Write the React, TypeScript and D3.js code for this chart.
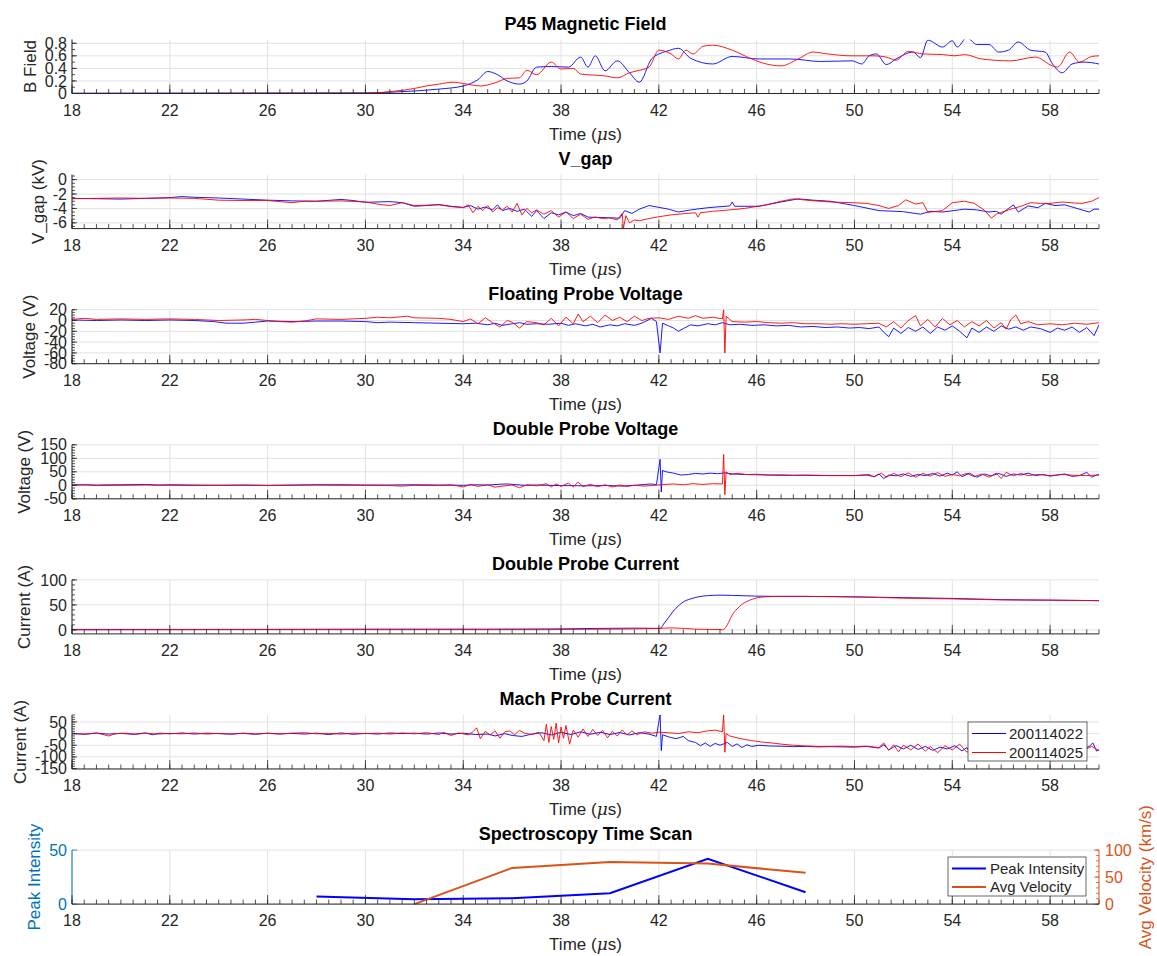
import React from "react";
import * as d3 from "d3";

type Pt = [number, number];

// time axis
const xTickLabels = [18, 22, 26, 30, 34, 38, 42, 46, 50, 54, 58];
const shotNames = ["200114022", "200114025"];

// P45 magnetic field
const bFieldBlue: Pt[] = [[18,0.005],[30,0.01],[31,0.02],[32,0.04],[33,0.07],[34,0.12],[34.6,0.22],[35.0,0.35],[35.4,0.3],[35.8,0.2],[36.3,0.15],[36.6,0.2],[37.0,0.42],[37.6,0.43],[38.3,0.42],[38.8,0.58],[39.1,0.42],[39.4,0.6],[39.8,0.36],[40.3,0.52],[40.8,0.33],[41.2,0.18],[41.7,0.55],[42.0,0.63],[42.3,0.67],[42.8,0.72],[43.3,0.56],[44.2,0.47],[45.0,0.59],[46.1,0.55],[47.4,0.55],[48.6,0.51],[49.9,0.52],[50.3,0.47],[50.6,0.6],[50.9,0.63],[51.3,0.46],[51.7,0.55],[52.4,0.66],[52.7,0.57],[53.0,0.85],[53.6,0.74],[54.0,0.84],[54.2,0.74],[54.6,0.89],[55.0,0.78],[55.5,0.78],[55.9,0.66],[56.3,0.69],[56.7,0.82],[57.2,0.69],[57.8,0.66],[58.1,0.47],[58.5,0.33],[58.9,0.47],[59.4,0.5],[60,0.47]];
const bFieldRed: Pt[] = [[18,0],[30,0.005],[30.5,0.01],[31,0.03],[31.5,0.05],[32,0.08],[32.5,0.12],[33,0.15],[33.6,0.18],[34,0.16],[34.7,0.12],[35.3,0.17],[35.8,0.24],[36.3,0.25],[36.6,0.37],[37.0,0.3],[37.6,0.5],[38.0,0.39],[38.5,0.4],[38.8,0.31],[39.8,0.28],[40.3,0.25],[40.8,0.33],[41.1,0.36],[41.6,0.42],[42.0,0.69],[42.5,0.63],[42.8,0.55],[43.1,0.69],[43.4,0.63],[43.8,0.75],[44.2,0.77],[45.0,0.69],[45.8,0.55],[46.4,0.47],[47.0,0.44],[47.7,0.55],[48.3,0.66],[48.9,0.63],[49.9,0.6],[50.8,0.6],[51.3,0.58],[51.7,0.53],[52.2,0.67],[52.8,0.63],[53.6,0.62],[54.1,0.6],[54.5,0.62],[55.2,0.55],[56.4,0.52],[57.4,0.58],[58.1,0.44],[58.3,0.42],[58.8,0.66],[59.2,0.5],[59.7,0.59],[60,0.6]];

// gap voltage (kV)
const vGapBlue: Pt[] = [[18,-2.6],[19,-2.65],[20,-2.7],[21,-2.6],[22,-2.5],[22.5,-2.35],[23,-2.45],[24,-2.55],[25,-2.7],[26,-2.85],[27,-2.95],[28,-3.0],[29,-2.75],[29.5,-2.9],[30,-3.15],[31,-3.05],[31.5,-3.2],[32,-3.7],[32.5,-3.6],[33,-3.45],[33.5,-3.7],[34,-3.85],[34.3,-3.6],[34.6,-4.1],[34.9,-3.8],[35.2,-4.2],[35.4,-3.5],[35.6,-4.3],[35.9,-4.0],[36.2,-4.4],[36.5,-4.1],[36.8,-5.1],[37.0,-4.3],[37.3,-5.4],[37.6,-4.6],[37.9,-4.9],[38.2,-4.5],[38.5,-5.0],[38.8,-4.7],[39.1,-5.2],[39.5,-5.25],[40,-5.3],[40.4,-5.35],[40.6,-4.3],[40.9,-4.7],[41.2,-4.1],[41.6,-3.6],[42,-3.85],[42.4,-4.1],[42.8,-4.5],[43.3,-4.2],[44,-3.9],[44.9,-3.65],[45,-3.1],[45.1,-3.7],[46.1,-3.7],[47,-3.1],[47.7,-2.67],[48.3,-2.85],[49,-3.0],[50,-3.6],[51,-4.3],[52,-4.45],[52.7,-4.8],[53.1,-4.4],[53.6,-4.5],[54.5,-4.1],[55.0,-4.2],[55.5,-4.5],[55.8,-4.4],[56.0,-4.8],[56.3,-4.0],[56.5,-3.5],[56.7,-4.5],[57.1,-3.65],[57.5,-3.9],[57.8,-3.3],[58.2,-3.6],[58.6,-3.5],[59.1,-4.0],[59.6,-4.5],[59.8,-4.1],[60,-4.1]];
const vGapRed: Pt[] = [[18,-2.65],[19,-2.6],[20,-2.55],[21,-2.6],[22,-2.55],[23,-2.6],[24,-2.85],[25,-2.9],[26,-2.9],[27,-3.2],[27.5,-3.0],[28,-3.0],[29,-2.95],[30,-3.1],[30.5,-3.4],[31,-3.6],[31.5,-3.2],[32,-3.6],[33,-3.5],[33.5,-3.75],[34,-3.9],[34.2,-3.5],[34.4,-4.6],[34.6,-3.7],[34.8,-4.3],[35.0,-3.6],[35.2,-4.5],[35.4,-3.9],[35.6,-4.2],[35.8,-3.7],[36.0,-4.5],[36.2,-3.3],[36.4,-4.9],[36.6,-4.0],[36.8,-4.6],[37.0,-4.2],[37.3,-4.8],[37.6,-4.3],[37.9,-5.2],[38.2,-4.5],[38.5,-5.4],[38.8,-4.8],[39.1,-5.5],[39.4,-5.2],[39.7,-5.4],[40.0,-5.3],[40.3,-5.6],[40.5,-4.7],[40.55,-6.8],[40.65,-5.0],[40.8,-6.0],[41.0,-5.6],[41.2,-5.7],[41.6,-5.4],[42.0,-5.15],[42.5,-4.9],[43.1,-4.7],[43.5,-4.6],[43.6,-5.2],[43.7,-4.6],[44.2,-4.4],[44.9,-4.2],[45.5,-4.0],[46.4,-3.5],[47.0,-3.0],[47.5,-2.67],[48.2,-2.9],[49.0,-3.1],[49.9,-3.2],[50.5,-3.3],[51.0,-3.6],[51.4,-4.0],[51.8,-3.6],[52.1,-2.8],[52.5,-3.4],[52.8,-3.2],[53.0,-4.55],[53.6,-4.3],[54.0,-3.2],[54.5,-3.0],[54.9,-3.3],[55.3,-4.2],[55.6,-5.35],[55.8,-4.8],[56.3,-4.2],[56.8,-3.7],[57.2,-3.2],[57.6,-3.3],[58.0,-3.3],[58.5,-3.1],[59.0,-3.25],[59.3,-3.3],[59.7,-3.0],[60,-2.5]];

// floating probe voltage (V)
const vFloatBlue: Pt[] = [[18,1],[19,0],[20,1],[21,0],[22,1],[23,0],[23.8,-2],[24.3,-5],[25,-5],[25.5,-3],[26,-1],[27,-2],[28,-1],[29,-1],[30,-2],[30.5,-4],[31,-3],[32,-4],[33,-5],[34,-6],[34.5,-5],[35,-8],[35.3,-5],[35.6,-9],[36,-6],[36.3,-4],[36.6,-7],[37,-6],[37.5,-7],[38,-5],[38.3,-9],[38.6,-6],[39,-10],[39.3,-7],[39.6,-12],[40,-8],[40.3,-10],[40.6,-6],[41,-9],[41.3,-5],[41.7,4],[41.9,-2],[42.05,-60],[42.15,-5],[42.4,-10],[42.6,-14],[42.8,-20],[43.0,-15],[43.3,-8],[43.6,-10],[44.0,-6],[44.3,-8],[44.6,-4],[44.9,-8],[45.3,-7],[45.8,-9],[46.3,-8],[46.8,-10],[47.3,-9],[47.8,-12],[48.3,-11],[48.8,-13],[49.3,-12],[49.8,-14],[50.2,-13],[50.6,-15],[51.0,-12],[51.2,-22],[51.4,-30],[51.6,-14],[51.9,-24],[52.2,-13],[52.5,-20],[52.8,-12],[53.1,-24],[53.4,-12],[53.7,-18],[54.0,-10],[54.3,-20],[54.6,-32],[54.8,-14],[55.1,-22],[55.4,-12],[55.7,-20],[56.0,-10],[56.3,-16],[56.6,-12],[56.9,-18],[57.2,-12],[57.6,-15],[58.0,-22],[58.3,-14],[58.6,-18],[58.9,-12],[59.2,-22],[59.5,-13],[59.8,-28],[60,-8]];
const vFloatRed: Pt[] = [[18,2],[18.5,4],[19,2],[20,3],[21,2],[22,3],[23,2],[24,0],[25,1],[25.5,2],[26,0],[26.5,-2],[27,-3],[27.5,-1],[28,3],[29,2],[30,4],[30.5,6],[31,5],[31.7,8],[32,5],[33,4],[33.5,2],[34,-2],[34.3,3],[34.6,-6],[34.9,5],[35.2,-4],[35.5,-12],[35.8,0],[36.0,-3],[36.3,-14],[36.6,-2],[37.0,-4],[37.3,-8],[37.6,4],[37.9,-10],[38.2,6],[38.5,-6],[38.7,12],[38.9,-2],[39.2,8],[39.5,-4],[39.8,10],[40.1,0],[40.4,6],[40.7,-2],[41.0,8],[41.3,0],[41.6,4],[42.0,5],[42.4,2],[42.8,8],[43.2,4],[43.5,9],[43.8,4],[44.2,6],[44.6,3],[44.65,20],[44.7,-60],[44.75,8],[45.0,-2],[45.5,-3],[46.0,-2],[46.5,-4],[47.0,-5],[47.5,-4],[48.0,-6],[48.5,-6],[49.0,-7],[49.5,-6],[50.0,-7],[50.5,-6],[51.0,-5],[51.3,-12],[51.6,-2],[51.9,-14],[52.2,0],[52.5,9],[52.7,-10],[53.0,2],[53.3,-12],[53.6,4],[53.9,-8],[54.2,0],[54.5,-12],[54.8,-2],[55.1,-10],[55.4,0],[55.7,-14],[56.0,-4],[56.2,-16],[56.4,2],[56.6,10],[56.8,-6],[57.1,-2],[57.5,-8],[58.0,-6],[58.5,-8],[59.0,-5],[59.5,-7],[60,-4]];

// double probe voltage (V)
const vDoubleBlue: Pt[] = [[18,2],[19,1],[20,2],[21,3],[21.5,1],[22,2],[23,1],[24,0],[25,1],[26,0],[27,1],[28,2],[29,2],[30,1],[31,1],[32,2],[33,1],[34,0],[34.5,2],[35,1],[35.5,4],[35.8,5],[36.2,2],[36.5,0],[37,1],[38,-1],[39,-2],[40,-1],[40.5,-3],[41,0],[41.4,3],[41.7,5],[41.9,2],[42.05,96],[42.1,-25],[42.15,55],[42.3,50],[42.6,45],[42.9,38],[43.2,40],[43.5,44],[43.8,42],[44.1,45],[44.4,43],[44.7,46],[45.0,42],[45.5,40],[46.0,39],[47,37],[48,37],[49,36],[50,36],[50.5,38],[50.8,32],[51.0,42],[51.2,25],[51.4,38],[51.7,35],[52.0,42],[52.3,33],[52.6,40],[52.9,36],[53.2,44],[53.5,34],[53.8,45],[54.0,38],[54.2,50],[54.4,32],[54.7,45],[55.0,30],[55.3,42],[55.6,35],[55.9,44],[56.2,33],[56.5,42],[56.8,38],[57.1,45],[57.4,36],[57.7,40],[58.0,34],[58.3,38],[58.6,42],[58.9,33],[59.2,36],[59.5,48],[59.7,30],[59.9,38],[60,40]];
const vDoubleRed: Pt[] = [[18,0],[18.5,2],[19,-1],[20,0],[21,1],[22,0],[23,-1],[24,0],[25,0],[26,-1],[27,0],[28,1],[29,0],[30,0],[31,-1],[31.5,-3],[32,0],[33,-1],[33.5,2],[34,-6],[34.3,3],[34.6,-4],[35,2],[35.3,-7],[35.6,-3],[36.0,1],[36.3,-9],[36.6,2],[37.0,-2],[37.4,6],[37.6,-6],[37.8,5],[38.0,-4],[38.3,8],[38.5,-6],[38.7,12],[38.9,-5],[39.2,4],[39.5,-5],[39.8,2],[40.1,-6],[40.4,1],[40.7,-4],[41.0,0],[41.4,-3],[41.8,0],[42.2,3],[42.6,5],[43.0,2],[43.4,6],[43.8,3],[44.2,6],[44.6,5],[44.65,114],[44.7,-35],[44.75,50],[44.9,40],[45.2,44],[45.6,40],[46.0,41],[46.5,38],[47.0,39],[47.5,37],[48.0,38],[49.0,36],[50.0,36],[50.6,40],[50.8,31],[51.1,45],[51.3,30],[51.6,44],[51.9,32],[52.2,46],[52.5,30],[52.8,44],[53.1,34],[53.4,47],[53.7,33],[54.0,40],[54.3,35],[54.6,44],[54.9,32],[55.2,42],[55.5,30],[55.8,45],[56.0,25],[56.2,48],[56.5,35],[56.8,44],[57.1,36],[57.5,40],[58.0,36],[58.5,40],[59.0,37],[59.5,36],[60,38]];

// double probe current (A)
const iDoubleBlue: Pt[] = [[18,1],[25,1],[30,1.5],[35,1.5],[38,2],[39.5,3],[41,3.5],[42.05,3],[42.2,12],[42.4,25],[42.6,38],[42.8,48],[43.0,56],[43.3,62],[43.6,66],[44.0,68.5],[44.5,69.5],[45.0,69],[46.0,67.5],[47,67],[48,67],[50,66],[52,64.5],[54,63],[56,60.5],[58,59.5],[60,58.5]];
const iDoubleRed: Pt[] = [[18,0],[25,0.5],[30,0.5],[37.5,0.5],[38,1],[40,1.5],[42,3],[42.5,4],[43.0,3],[43.5,1.5],[44.0,1],[44.6,0.5],[44.7,3],[44.85,15],[45.0,30],[45.2,42],[45.4,51],[45.7,59],[46.0,64],[46.3,66],[47,67],[48,67],[49,66.5],[50,66],[52,63.5],[54,62],[56,60],[58,59.5],[60,58.5]];

// mach probe current (A)
const iMachBlue: Pt[] = [[18,0],[18.5,-3],[19,2],[19.5,-2],[20,1],[20.5,-3],[21,3],[21.3,-5],[21.6,2],[22,-1],[22.5,3],[23,-2],[23.5,2],[24,0],[24.5,-2],[25,1],[25.5,-3],[26,2],[26.5,-1],[27,1],[27.5,-2],[28,2],[28.5,-4],[29,3],[29.5,-3],[30,1],[30.5,-2],[31,3],[31.5,0],[32,2],[32.5,-2],[33,3],[33.5,-2],[34,2],[34.5,-4],[35,-2],[35.3,-10],[35.7,0],[36.0,-8],[36.4,-12],[36.8,-2],[37.2,4],[37.6,-6],[38.0,6],[38.4,-4],[38.8,8],[39.2,-3],[39.6,6],[40.0,-4],[40.4,5],[40.8,-6],[41.2,4],[41.6,-2],[41.9,-12],[42.05,82],[42.1,-73],[42.15,-5],[42.4,-14],[42.7,-22],[43.0,-12],[43.2,-30],[43.5,-38],[43.7,-52],[43.9,-40],[44.1,-55],[44.3,-42],[44.5,-50],[44.8,-38],[45.0,-55],[45.2,-44],[45.4,-60],[45.6,-48],[45.8,-55],[46.1,-50],[46.5,-53],[47,-54],[47.5,-56],[48,-55],[48.5,-57],[49,-56],[49.5,-57],[50,-58],[50.5,-55],[51.0,-62],[51.2,-48],[51.4,-70],[51.7,-52],[52.0,-66],[52.3,-50],[52.6,-68],[52.9,-55],[53.2,-72],[53.5,-58],[53.8,-66],[54.1,-52],[54.4,-74],[54.6,-60],[54.8,-100],[55.0,-60],[55.2,-85],[55.5,-55],[55.8,-75],[56.1,-60],[56.4,-80],[56.7,-58],[57.0,-72],[57.3,-60],[57.7,-75],[58.0,-62],[58.4,-78],[58.7,-64],[59.0,-72],[59.3,-66],[59.6,-55],[59.75,-40],[59.9,-75],[60,-70]];
const iMachRed: Pt[] = [[18,2],[18.5,-2],[19,3],[19.5,-10],[19.8,0],[20.2,2],[20.6,-3],[21,2],[21.5,-2],[22,1],[22.5,-1],[23,3],[23.5,-2],[24,1],[24.5,-2],[25,2],[25.5,-1],[26,1],[26.5,-2],[27,2],[27.5,4],[28,-1],[28.5,1],[29,-2],[29.5,2],[30,0],[30.5,2],[31,-2],[31.5,3],[32,-1],[32.5,4],[33,-4],[33.2,6],[33.5,-8],[33.8,3],[34.2,-5],[34.4,8],[34.55,25],[34.7,-22],[34.9,10],[35.1,-6],[35.3,12],[35.5,-20],[35.7,8],[35.9,12],[36.1,-5],[36.3,14],[36.5,2],[36.8,-4],[37.1,6],[37.3,-30],[37.4,40],[37.5,-38],[37.6,30],[37.7,-25],[37.8,45],[37.9,-40],[38.0,28],[38.1,-20],[38.2,35],[38.35,-45],[38.5,15],[38.7,-15],[38.9,20],[39.1,-12],[39.3,18],[39.5,-8],[39.7,14],[39.9,-18],[40.1,10],[40.3,-10],[40.5,16],[40.7,-6],[40.9,12],[41.1,-4],[41.4,8],[41.7,2],[42.0,6],[42.4,4],[42.8,0],[43.2,8],[43.6,4],[44.0,12],[44.3,15],[44.6,8],[44.65,82],[44.7,-80],[44.75,0],[44.9,-10],[45.2,-18],[45.5,-25],[45.8,-30],[46.2,-36],[46.6,-40],[47.0,-45],[47.5,-50],[48.0,-53],[48.5,-55],[49,-55],[49.5,-54],[50,-56],[50.5,-54],[51.0,-60],[51.2,-40],[51.4,-72],[51.6,-48],[51.8,-78],[52.0,-50],[52.3,-70],[52.6,-45],[52.9,-75],[53.1,-55],[53.4,-82],[53.7,-52],[54.0,-70],[54.3,-45],[54.6,-80],[54.9,-55],[55.2,-70],[55.5,-50],[55.8,-78],[56.1,-52],[56.4,-70],[56.6,-100],[56.8,-55],[57.1,-72],[57.4,-58],[57.8,-70],[58.2,-60],[58.6,-72],[59.0,-62],[59.4,-70],[59.7,-55],[60,-72]];

// spectroscopy time scan
const specTimes = [28, 32, 36, 40, 44, 48];
const peakIntensity = [7, 4.5, 5.5, 10, 42, 11];
const velTimes = [32, 36, 40, 44, 48];
const avgVelocity = [0, 67, 78, 75, 58];

const W = 1157;
const H = 956;
const X0 = 72;
const X1 = 1099;
const TOP0 = 39.5;
const PITCH = 135.1;
const PH = 54;
const FONT = '"Liberation Sans", Arial, Helvetica, sans-serif';
const AX = "#262626";
const GRID = "#e2e2e2";

const x = d3.scaleLinear().domain([18, 60]).range([X0, X1]);
const xMinor = d3.range(18, 60.01, 0.5);

const panels = [
  { title: "P45 Magnetic Field", ylabel: "B Field", labelX: 30, domain: [0, 0.86], ticks: [0, 0.2, 0.4, 0.6, 0.8], minor: 0.1, blue: bFieldBlue, red: bFieldRed, smooth: true },
  { title: "V_gap", ylabel: "V_gap (kV)", labelX: 38, domain: [-6.8, 0.7], ticks: [-6, -4, -2, 0], minor: 0.5, blue: vGapBlue, red: vGapRed },
  { title: "Floating Probe Voltage", ylabel: "Voltage (V)", labelX: 29, domain: [-80, 20], ticks: [-80, -60, -40, -20, 0, 20], minor: 5, blue: vFloatBlue, red: vFloatRed },
  { title: "Double Probe Voltage", ylabel: "Voltage (V)", labelX: 24, domain: [-50, 150], ticks: [-50, 0, 50, 100, 150], minor: 10, blue: vDoubleBlue, red: vDoubleRed },
  { title: "Double Probe Current", ylabel: "Current (A)", labelX: 24, domain: [-8, 100], ticks: [0, 50, 100], minor: 10, blue: iDoubleBlue, red: iDoubleRed, smooth: true },
  { title: "Mach Probe Current", ylabel: "Current (A)", labelX: 20, domain: [-152, 80], ticks: [-150, -100, -50, 0, 50], minor: 10, blue: iMachBlue, red: iMachRed, legend: true },
];

function minorTicks(domain: number[], step: number) {
  const lo = Math.ceil(domain[0] / step - 1e-9);
  const hi = Math.floor(domain[1] / step + 1e-9);
  return d3.range(lo, hi + 1).map(k => +(k * step).toFixed(6));
}

function TimeAxis({ bottom }: { bottom: number }) {
  return (
    <g>
      {xMinor.map(t => (
        <line key={"m" + t} x1={x(t)} x2={x(t)} y1={bottom} y2={bottom - 4.5} stroke={AX} strokeWidth={0.8} />
      ))}
      {xTickLabels.map(t => (
        <g key={t}>
          <line x1={x(t)} x2={x(t)} y1={bottom} y2={bottom - 9} stroke={AX} strokeWidth={0.8} />
          <text x={x(t)} y={bottom + 22} textAnchor="middle" fontSize={16} fill={AX}>{t}</text>
        </g>
      ))}
      <line x1={X0} x2={X1} y1={bottom} y2={bottom} stroke={AX} strokeWidth={1} />
      <text x={(X0 + X1) / 2} y={bottom + 46} textAnchor="middle" fontSize={17} fill={AX}>
        Time (<tspan fontStyle="italic" fontFamily="'DejaVu Serif', 'Liberation Serif', serif">μ</tspan>s)
      </text>
    </g>
  );
}

function Grid({ top, bottom, yTicks, y }: any) {
  return (
    <g>
      {xTickLabels.map(t => (
        <line key={"gx" + t} x1={x(t)} x2={x(t)} y1={top} y2={bottom} stroke={GRID} strokeWidth={1} />
      ))}
      {yTicks.map((t: number) => (
        <line key={"gy" + t} x1={X0} x2={X1} y1={y(t)} y2={y(t)} stroke={GRID} strokeWidth={1} />
      ))}
    </g>
  );
}

function Panel({ idx, cfg }: any) {
  const top = TOP0 + PITCH * idx;
  const bottom = top + PH;
  const y = d3.scaleLinear().domain(cfg.domain).range([bottom, top]);
  const line = d3.line<Pt>().x(d => x(d[0])).y(d => y(d[1]));
  if (cfg.smooth) line.curve(d3.curveMonotoneX);
  const clipId = "clip" + idx;
  const cy = (top + bottom) / 2;
  return (
    <g>
      <defs>
        <clipPath id={clipId}>
          <rect x={X0} y={top} width={X1 - X0} height={PH} />
        </clipPath>
      </defs>
      <Grid top={top} bottom={bottom} yTicks={cfg.ticks} y={y} />
      <g clipPath={`url(#${clipId})`}>
        <path d={line(cfg.blue) || ""} fill="none" stroke="#0000ff" strokeWidth={0.9} />
        <path d={line(cfg.red) || ""} fill="none" stroke="#ff0000" strokeWidth={0.9} />
      </g>
      <line x1={X0} x2={X0} y1={top} y2={bottom} stroke={AX} strokeWidth={1} />
      {minorTicks(cfg.domain, cfg.minor).map(t => (
        <line key={"ym" + t} x1={X0} x2={X0 + 3} y1={y(t)} y2={y(t)} stroke={AX} strokeWidth={0.8} />
      ))}
      {cfg.ticks.map((t: number) => (
        <g key={"yt" + t}>
          <line x1={X0} x2={X0 + 5} y1={y(t)} y2={y(t)} stroke={AX} strokeWidth={0.8} />
          <text x={X0 - 5} y={y(t)} dy="0.35em" textAnchor="end" fontSize={16} fill={AX}>{t}</text>
        </g>
      ))}
      <TimeAxis bottom={bottom} />
      <text x={(X0 + X1) / 2} y={top - 10} textAnchor="middle" fontSize={18} fontWeight="bold" fill="#000">{cfg.title}</text>
      <text transform={`translate(${cfg.labelX},${cy}) rotate(-90)`} textAnchor="middle" dy="0.35em" fontSize={17} fill={AX}>{cfg.ylabel}</text>
      {cfg.legend && (
        <g>
          <rect x={968} y={722} width={119} height={39} fill="#fff" stroke={AX} strokeWidth={0.7} />
          {shotNames.map((n, i) => (
            <g key={n}>
              <line x1={972} x2={1006} y1={733.5 + i * 19} y2={733.5 + i * 19} stroke={i === 0 ? "#0000ff" : "#ff0000"} strokeWidth={1.2} />
              <text x={1009} y={733.5 + i * 19} dy="0.35em" fontSize={15} fill={AX}>{n}</text>
            </g>
          ))}
        </g>
      )}
    </g>
  );
}

function SpectroPanel() {
  const idx = 6;
  const top = TOP0 + PITCH * idx;
  const bottom = top + PH;
  const cy = (top + bottom) / 2;
  const yL = d3.scaleLinear().domain([0, 50]).range([bottom, top]);
  const yR = d3.scaleLinear().domain([0, 100]).range([bottom, top]);
  const leftTicks = [0, 50];
  const rightTicks = [0, 50, 100];
  const blueCol = "#0072bd";
  const orange = "#d95319";
  const peakLine = d3.line<number>().x((_, i) => x(specTimes[i])).y(d => yL(d));
  const velLine = d3.line<number>().x((_, i) => x(velTimes[i])).y(d => yR(d));
  return (
    <g>
      <Grid top={top} bottom={bottom} yTicks={leftTicks} y={yL} />
      <path d={peakLine(peakIntensity) || ""} fill="none" stroke="#0000ff" strokeWidth={2} />
      <path d={velLine(avgVelocity) || ""} fill="none" stroke={orange} strokeWidth={2} />
      <line x1={X0} x2={X0} y1={top} y2={bottom} stroke={blueCol} strokeWidth={1} />
      {leftTicks.map(t => (
        <g key={"l" + t}>
          <line x1={X0} x2={X0 + 5} y1={yL(t)} y2={yL(t)} stroke={blueCol} strokeWidth={0.8} />
          <text x={X0 - 5} y={yL(t)} dy="0.35em" textAnchor="end" fontSize={16} fill={blueCol}>{t}</text>
        </g>
      ))}
      <line x1={X1} x2={X1} y1={top} y2={bottom} stroke={orange} strokeWidth={1} />
      {minorTicks([0, 100], 10).map(t => (
        <line key={"rm" + t} x1={X1} x2={X1 - 3} y1={yR(t)} y2={yR(t)} stroke={orange} strokeWidth={0.8} />
      ))}
      {rightTicks.map(t => (
        <g key={"r" + t}>
          <line x1={X1} x2={X1 - 5} y1={yR(t)} y2={yR(t)} stroke={orange} strokeWidth={0.8} />
          <text x={X1 + 6} y={yR(t)} dy="0.35em" textAnchor="start" fontSize={16} fill={orange}>{t}</text>
        </g>
      ))}
      <TimeAxis bottom={bottom} />
      <text x={(X0 + X1) / 2} y={top - 10} textAnchor="middle" fontSize={18} fontWeight="bold" fill="#000">Spectroscopy Time Scan</text>
      <text transform={`translate(34,${cy}) rotate(-90)`} textAnchor="middle" dy="0.35em" fontSize={17} fill={blueCol}>Peak Intensity</text>
      <text transform={`translate(1145,${cy}) rotate(-90)`} textAnchor="middle" dy="0.35em" fontSize={17} fill={orange}>Avg Velocity (km/s)</text>
      <g>
        <rect x={948} y={857} width={138} height={39} fill="#fff" stroke={AX} strokeWidth={0.7} />
        <line x1={952} x2={986} y1={868.5} y2={868.5} stroke="#0000ff" strokeWidth={2} />
        <text x={990} y={868.5} dy="0.35em" fontSize={15} fill={AX}>Peak Intensity</text>
        <line x1={952} x2={986} y1={887} y2={887} stroke={orange} strokeWidth={2} />
        <text x={990} y={887} dy="0.35em" fontSize={15} fill={AX}>Avg Velocity</text>
      </g>
    </g>
  );
}

export default function App() {
  return (
    <svg width={W} height={H} style={{ position: "absolute", left: 0, top: 0, display: "block", background: "#fff" }} fontFamily={FONT}>
      <rect x={0} y={0} width={W} height={H} fill="#fff" />
      {panels.map((p, i) => (
        <Panel key={i} idx={i} cfg={p} />
      ))}
      <SpectroPanel />
    </svg>
  );
}
